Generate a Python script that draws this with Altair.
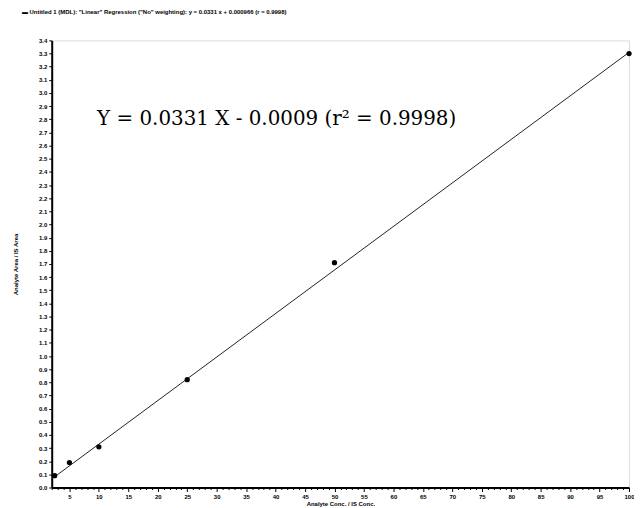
import altair as alt
import pandas as pd

# calibration points (Analyte Conc./IS Conc. vs Analyte Area/IS Area)
conc = [2.5, 5, 10, 25, 50, 100]
ratio = [0.09, 0.19, 0.31, 0.82, 1.71, 3.30]

# fitted regression line end points
line_x = [2, 100]
line_y = [0.0331 * 2 - 0.0009, 0.0331 * 100 - 0.0009]

x_ticks = list(range(2, 101))
y_ticks = [round(i * 0.1, 1) for i in range(0, 35)]

equation = "Y = 0.0331 X - 0.0009 (r\u00b2 = 0.9998)"
eq_x = [9.7]
eq_y = [2.76]

title_text = '\u25ac  Untitled 1 (MDL): "Linear" Regression ("No" weighting): y = 0.0331 x + 0.000966 (r = 0.9998)'

pts = pd.DataFrame({"x": conc, "y": ratio})
ln = pd.DataFrame({"x": line_x, "y": line_y})
ann = pd.DataFrame({"x": eq_x, "y": eq_y, "t": [equation]})

xscale = alt.Scale(domain=[2, 100], nice=False, zero=False)
yscale = alt.Scale(domain=[0, 3.4], nice=False)

common = dict(
    grid=False,
    domainColor="black",
    domainWidth=2,
    tickColor="black",
    labelColor="black",
    labelFont="Liberation Sans",
    labelFontSize=6,
    labelFontWeight="bold",
    labelPadding=2,
    labelOverlap=False,
    labelFlush=False,
    titleFont="Liberation Sans",
    titleFontSize=6,
    titleFontWeight="bold",
    titleColor="black",
)

xaxis = alt.Axis(
    title="Analyte Conc. / IS Conc.",
    values=x_ticks,
    labelExpr="datum.value % 5 === 0 ? datum.label : ''",
    tickSize={"condition": {"test": "datum.value % 5 === 0", "value": 4}, "value": 2},
    titlePadding=1,
    **common,
)
yaxis = alt.Axis(
    title="Analyte Area / IS Area",
    values=y_ticks,
    format=".1f",
    tickSize=3,
    titlePadding=20,
    **common,
)

X = alt.X("x:Q", scale=xscale, axis=xaxis)
Y = alt.Y("y:Q", scale=yscale, axis=yaxis)

line = alt.Chart(ln).mark_line(color="#222222", strokeWidth=1).encode(x=X, y=Y)
points = alt.Chart(pts).mark_circle(color="black", opacity=1, size=28).encode(x=X, y=Y)
text = alt.Chart(ann).mark_text(
    align="left", baseline="alphabetic", font="DejaVu Serif", fontSize=20, color="black"
).encode(x=X, y=Y, text="t:N")

chart = (
    alt.layer(line, points, text)
    .properties(
        width=581,
        height=450,
        autosize=alt.AutoSizeParams(type="none"),
        padding={"left": 44, "top": 31, "right": 5, "bottom": 19},
        title=alt.TitleParams(
            text=title_text,
            anchor="start",
            frame="group",
            dx=-30,
            offset=23,
            font="Liberation Sans",
            fontSize=6,
            fontWeight="bold",
            color="black",
        ),
    )
    .configure_view(stroke=None)
    .configure(background="white")
)

chart.save("out.html", embed_options={"renderer": "svg", "actions": False})
